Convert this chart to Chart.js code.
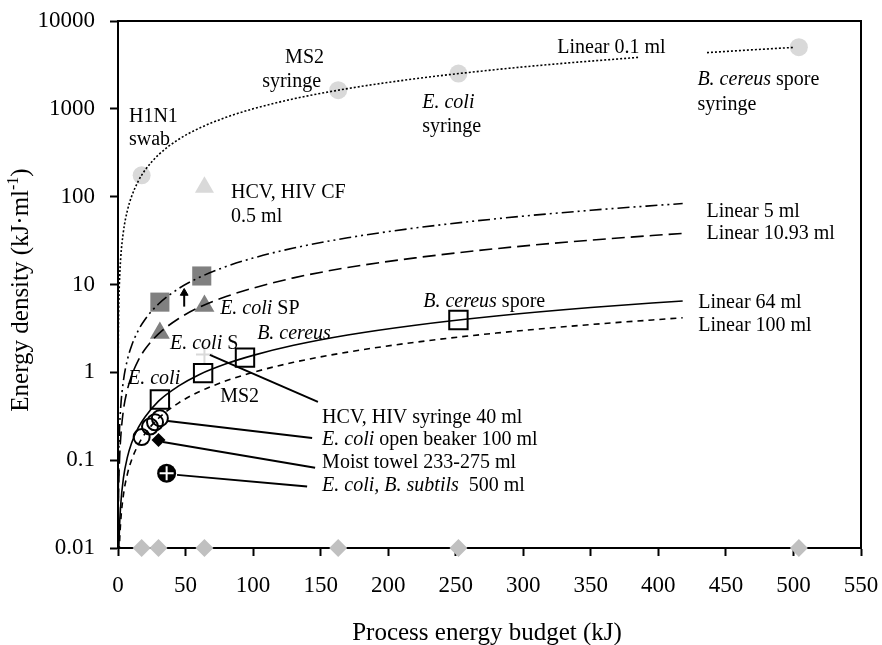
<!DOCTYPE html>
<html>
<head>
<meta charset="utf-8">
<script src="https://cdn.jsdelivr.net/npm/chart.js@4.4.0/dist/chart.umd.min.js"></script>
<style>
  html, body { margin: 0; padding: 0; background: #fff; }
</style>
</head>
<body>
<canvas id="energyChart" width="882" height="645"></canvas>
<script>
// axis ticks
const yTicks = [0.01, 0.1, 1, 10, 100, 1000, 10000];
const yTickLabels = ['0.01', '0.1', '1', '10', '100', '1000', '10000'];

// linear fits (energy / volume)
const line01X = [0.01, 0.02, 0.05, 0.1, 0.2, 0.5, 1, 2, 4, 7, 10, 15, 20, 30, 45, 60, 80, 100, 130, 170, 220, 280, 330, 385, 410, 436, 470, 500];
const line01Y = [0.1, 0.2, 0.5, 1, 2, 5, 10, 20, 40, 70, 100, 150, 200, 300, 450, 600, 800, 1000, 1300, 1700, 2200, 2800, 3300, 3850, null, 4360, 4700, 5000];
const lineX = [0.05, 0.1, 0.2, 0.5, 1, 2, 4, 7, 10, 15, 20, 30, 45, 60, 80, 100, 130, 170, 220, 280, 350, 418];
const line5Y = [0.01, 0.02, 0.04, 0.1, 0.2, 0.4, 0.8, 1.4, 2, 3, 4, 6, 9, 12, 16, 20, 26, 34, 44, 56, 70, 83.6];
const line1093Y = [0.0046, 0.0091, 0.018, 0.046, 0.091, 0.18, 0.37, 0.64, 0.91, 1.37, 1.83, 2.74, 4.1, 5.5, 7.3, 9.1, 11.9, 15.6, 20.1, 25.6, 32, 38.2];
const line64Y = [0.0008, 0.0016, 0.0031, 0.0078, 0.0156, 0.031, 0.0625, 0.109, 0.156, 0.234, 0.31, 0.47, 0.70, 0.94, 1.25, 1.56, 2.03, 2.66, 3.44, 4.38, 5.47, 6.5];
const line100Y = [0.0005, 0.001, 0.002, 0.005, 0.01, 0.02, 0.04, 0.07, 0.1, 0.15, 0.2, 0.3, 0.45, 0.6, 0.8, 1, 1.3, 1.7, 2.2, 2.8, 3.5, 4.18];

// measured points
const syringeX = [17.5, 163, 252, 504];
const syringeY = [175, 1630, 2520, 5040];
const budgetX = [17.5, 30, 64, 163, 252, 504];
const budgetY = [0.01, 0.01, 0.01, 0.01, 0.01, 0.01];
const cfX = [64];
const cfY = [128];
const spSquareX = [31, 62];
const spSquareY = [6.3, 12.5];
const spTriX = [31, 64];
const spTriY = [2.8, 5.7];
const hcvX = [64];
const hcvY = [1.6];
const openSqX = [31, 63, 94, 252];
const openSqY = [0.49, 0.98, 1.47, 3.94];
const beakerX = [17.5, 23.7, 27.4, 31];
const beakerY = [0.183, 0.241, 0.27, 0.3];
const towelX = [30];
const towelY = [0.17];
const subtilisX = [36];
const subtilisY = [0.071];
const arrowX = [49, 49];
const arrowY = [5.6, 8.0];

// leader lines from markers to their labels
const leaders = [
    { x: [68, 148], y: [1.58, 0.46] },
    { x: [37, 143.7], y: [0.28, 0.179] },
    { x: [33.3, 145.9], y: [0.161, 0.082] },
    { x: [43.7, 140], y: [0.068, 0.05] }
];

// text labels placed in data units; parts are [text, italic]
const labels = [
    { x: 8.1, y: 817, parts: [['H1N1', false]] },
    { x: 8.1, y: 447, parts: [['swab', false]] },
    { x: 123.7, y: 3837, parts: [['MS2', false]] },
    { x: 106.7, y: 2046, parts: [['syringe', false]] },
    { x: 225.2, y: 1178, parts: [['E. coli', true]] },
    { x: 225.2, y: 628, parts: [['syringe', false]] },
    { x: 325.2, y: 4989, parts: [['Linear 0.1 ml', false]] },
    { x: 428.9, y: 2153, parts: [['B. cereus', true], [' spore', false]] },
    { x: 428.9, y: 1117, parts: [['syringe', false]] },
    { x: 83.7, y: 111, parts: [['HCV, HIV CF', false]] },
    { x: 83.7, y: 59.2, parts: [['0.5 ml', false]] },
    { x: 435.6, y: 67.5, parts: [['Linear 5 ml', false]] },
    { x: 435.6, y: 37.8, parts: [['Linear 10.93 ml', false]] },
    { x: 429.6, y: 6.19, parts: [['Linear 64 ml', false]] },
    { x: 429.6, y: 3.39, parts: [['Linear 100 ml', false]] },
    { x: 225.9, y: 6.35, parts: [['B. cereus', true], [' spore', false]] },
    { x: 75.6, y: 5.29, parts: [['E. coli', true], [' SP', false]] },
    { x: 38.5, y: 2.11, parts: [['E. coli', true], [' S', false]] },
    { x: 103, y: 2.75, parts: [['B. cereus', true]] },
    { x: 7.4, y: 0.843, parts: [['E. coli', true]] },
    { x: 75.6, y: 0.526, parts: [['MS2', false]] },
    { x: 151.1, y: 0.303, parts: [['HCV, HIV syringe 40 ml', false]] },
    { x: 151.1, y: 0.170, parts: [['E. coli', true], [' open beaker 100 ml', false]] },
    { x: 151.1, y: 0.0931, parts: [['Moist towel 233-275 ml', false]] },
    { x: 151.1, y: 0.0509, parts: [['E. coli, B. subtils', true], ['  500 ml', false]] }
];

const SERIF = '"Liberation Serif", "Times New Roman", serif';
const LIGHT = '#d9d9d9';
const MID = '#c0c0c0';
const DARK = '#808080';

function pts(xs, ys) {
    return xs.map((x, i) => ({ x: x, y: ys[i] }));
}

function curve(xs, ys, dash) {
    return {
        data: pts(xs, ys),
        showLine: true,
        borderColor: '#000',
        borderWidth: 1.6,
        borderDash: dash,
        pointRadius: 0,
        cubicInterpolationMode: 'monotone',
        spanGaps: false
    };
}

function markers(xs, ys, style, radius, fill, stroke, width) {
    return {
        data: pts(xs, ys),
        pointStyle: style,
        pointRadius: radius,
        pointBackgroundColor: fill,
        pointBorderColor: stroke,
        pointBorderWidth: width,
        clip: false
    };
}

// note: Chart.js paints the first dataset on top
const datasets = [
    curve(line01X, line01Y, [2, 2]),
    curve(lineX, line5Y, [12, 4, 2, 4, 2, 4]),
    curve(lineX, line1093Y, [13, 6]),
    curve(lineX, line64Y, []),
    curve(lineX, line100Y, [6, 5])
];

leaders.forEach(l => {
    datasets.push({
        data: pts(l.x, l.y),
        showLine: true,
        borderColor: '#000',
        borderWidth: 2,
        pointRadius: 0
    });
});

datasets.push(
    markers(subtilisX, subtilisY, 'cross', 7, '#fff', '#fff', 2),
    markers(subtilisX, subtilisY, 'circle', 9.5, '#000', '#000', 0),
    markers(syringeX, syringeY, 'circle', 9, LIGHT, LIGHT, 0),
    markers(budgetX, budgetY, 'rectRot', 9, MID, MID, 0),
    markers(cfX, cfY, 'triangle', 11, LIGHT, LIGHT, 0),
    markers(spSquareX, spSquareY, 'rect', 13.5, DARK, DARK, 0),
    markers(spTriX, spTriY, 'triangle', 11.5, DARK, DARK, 0),
    markers(hcvX, hcvY, 'cross', 8.5, LIGHT, LIGHT, 2),
    markers(openSqX, openSqY, 'rect', 13, 'rgba(0,0,0,0)', '#000', 2),
    markers(beakerX, beakerY, 'circle', 8, 'rgba(0,0,0,0)', '#000', 2),
    markers(towelX, towelY, 'rectRot', 7, '#000', '#000', 0),
    {
        data: pts(arrowX, arrowY),
        showLine: true,
        borderColor: '#000',
        borderWidth: 2,
        pointStyle: 'triangle',
        pointRadius: [0, 4.5],
        pointBackgroundColor: '#000',
        pointBorderColor: '#000',
        pointBorderWidth: 1
    }
);

// frame, annotations and axis titles
const decorations = {
    id: 'decorations',
    beforeDatasetsDraw(chart) {
        const { ctx, chartArea: a } = chart;
        ctx.save();
        ctx.strokeStyle = '#000';
        ctx.lineWidth = 2;
        ctx.strokeRect(a.left, a.top, a.right - a.left, a.bottom - a.top);
        ctx.restore();
    },
    afterDraw(chart) {
        const { ctx, scales } = chart;
        ctx.save();
        ctx.fillStyle = '#000';
        ctx.textBaseline = 'middle';
        ctx.textAlign = 'left';
        labels.forEach(lb => {
            let px = scales.x.getPixelForValue(lb.x);
            const py = scales.y.getPixelForValue(lb.y);
            lb.parts.forEach(([text, italic]) => {
                ctx.font = (italic ? 'italic ' : '') + '20px ' + SERIF;
                ctx.fillText(text, px, py);
                px += ctx.measureText(text).width;
            });
        });

        // x title
        ctx.textAlign = 'center';
        ctx.font = '25px ' + SERIF;
        ctx.fillText('Process energy budget (kJ)', 487, 633);

        // y title with superscript
        ctx.translate(21, 290);
        ctx.rotate(-Math.PI / 2);
        ctx.textAlign = 'left';
        const main = 'Energy density (kJ\u00b7ml';
        ctx.font = '25px ' + SERIF;
        const w1 = ctx.measureText(main).width;
        const w3 = ctx.measureText(')').width;
        ctx.font = '16px ' + SERIF;
        const w2 = ctx.measureText('-1').width;
        let start = -(w1 + w2 + w3) / 2;
        ctx.font = '25px ' + SERIF;
        ctx.fillText(main, start, 0);
        ctx.font = '16px ' + SERIF;
        ctx.fillText('-1', start + w1, -7);
        ctx.font = '25px ' + SERIF;
        ctx.fillText(')', start + w1 + w2, 0);
        ctx.restore();
    }
};

const tickFont = { family: SERIF, size: 23 };
const gridOpts = { drawOnChartArea: false, tickLength: 8, tickWidth: 2, tickColor: '#000' };
const borderOpts = { color: '#000', width: 2 };

new Chart(document.getElementById('energyChart').getContext('2d'), {
    type: 'scatter',
    data: { datasets: datasets },
    options: {
        responsive: false,
        animation: false,
        layout: { padding: { top: 21, right: 21, left: 0, bottom: 0 } },
        plugins: { legend: { display: false }, tooltip: { enabled: false } },
        scales: {
            x: {
                type: 'linear',
                min: 0,
                max: 550,
                ticks: { stepSize: 50, padding: 16, color: '#000', font: tickFont },
                grid: gridOpts,
                border: borderOpts,
                afterFit: s => {
                    s.height = 97;
                    s.paddingLeft = 0;
                    s.paddingRight = 0;
                }
            },
            y: {
                type: 'logarithmic',
                min: 0.01,
                max: 10000,
                afterBuildTicks: s => { s.ticks = yTicks.map(v => ({ value: v })); },
                ticks: {
                    callback: (v, i) => yTickLabels[i],
                    padding: 15,
                    color: '#000',
                    font: tickFont
                },
                grid: gridOpts,
                border: borderOpts,
                afterFit: s => {
                    s.width = 118;
                    s.paddingTop = 0;
                    s.paddingBottom = 0;
                }
            }
        }
    },
    plugins: [decorations]
});
</script>
</body>
</html>
